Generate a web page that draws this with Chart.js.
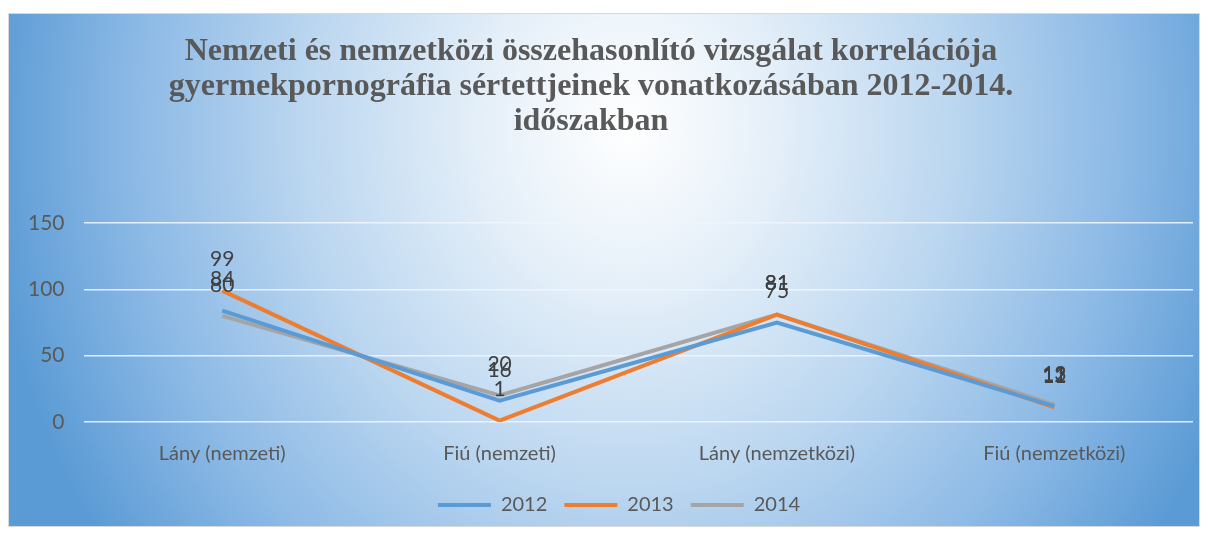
<!DOCTYPE html>
<html>
<head>
<meta charset="utf-8">
<script src="https://cdn.jsdelivr.net/npm/chart.js@4.4.1/dist/chart.umd.min.js"></script>
<style>
  html, body { margin: 0; padding: 0; background: #ffffff; }
  #box {
    position: absolute; left: 8px; top: 13px; width: 1190px; height: 512px;
    border: 1px solid #d9d9d9;
    background: radial-gradient(ellipse 54% 140% at 52% 22%, #ffffff 0%, #e6f0f9 22%, #bcd7f0 50%, #8ab8e5 78%, #5b9bd5 100%);
  }
  #wrap { position: absolute; left: 0; top: 0; width: 1190px; height: 512px; }
</style>
</head>
<body>
<div id="box"><div id="wrap"><canvas id="c"></canvas></div></div>
<script>
const categories = ["Lány (nemzeti)", "Fiú (nemzeti)", "Lány (nemzetközi)", "Fiú (nemzetközi)"];
const series2012 = [84, 16, 75, 12];
const series2013 = [99, 1, 81, 11];
const series2014 = [80, 20, 81, 13];
const seriesNames = ["2012", "2013", "2014"];
const yTicks = [0, 50, 100, 150];
const titleLines = [
  "Nemzeti és nemzetközi összehasonlító vizsgálat korrelációja",
  "gyermekpornográfia sértettjeinek vonatkozásában 2012-2014.",
  "időszakban"
];

const FONT = "Lato, 'Open Sans', sans-serif";

const titlePlugin = {
  id: 'customTitle',
  afterDraw(chart) {
    const ctx = chart.ctx;
    ctx.save();
    ctx.font = "bold 32px 'Liberation Serif', 'Times New Roman', serif";
    ctx.fillStyle = '#595959';
    ctx.textAlign = 'center';
    ctx.textBaseline = 'middle';
    titleLines.forEach((t, i) => ctx.fillText(t, 582, 38 + i * 35));
    ctx.restore();
  }
};

const labelPlugin = {
  id: 'valueLabels',
  afterDatasetsDraw(chart) {
    const ctx = chart.ctx;
    ctx.save();
    ctx.font = "21px " + FONT;
    ctx.fillStyle = '#404040';
    ctx.textAlign = 'center';
    ctx.textBaseline = 'middle';
    chart.data.datasets.forEach((ds, di) => {
      const meta = chart.getDatasetMeta(di);
      meta.data.forEach((pt, i) => {
        ctx.fillText(String(ds.data[i]), pt.x, pt.y - 31);
      });
    });
    ctx.restore();
  }
};

const legendShift = {
  id: 'legendShift',
  afterLayout(chart) {
    if (chart.legend) {
      chart.legend.left += 18;
      chart.legend.right += 18;
    }
  }
};

new Chart(document.getElementById('c'), {
  type: 'line',
  data: {
    labels: categories,
    datasets: [
      { label: seriesNames[0], data: series2012, borderColor: '#5b9bd5', backgroundColor: '#5b9bd5', borderWidth: 4, pointRadius: 0, tension: 0 },
      { label: seriesNames[1], data: series2013, borderColor: '#ed7d31', backgroundColor: '#ed7d31', borderWidth: 4, pointRadius: 0, tension: 0 },
      { label: seriesNames[2], data: series2014, borderColor: '#a5a5a5', backgroundColor: '#a5a5a5', borderWidth: 4, pointRadius: 0, tension: 0 }
    ]
  },
  options: {
    responsive: true,
    maintainAspectRatio: false,
    animation: false,
    layout: { padding: { top: 209, right: 6, left: 0, bottom: 1 } },
    scales: {
      x: {
        offset: true,
        grid: { display: false },
        border: { display: false },
        ticks: { color: '#595959', font: { family: FONT, size: 20 }, padding: 12 }
      },
      y: {
        min: 0, max: 150,
        afterBuildTicks(axis) { axis.ticks = yTicks.map(v => ({ value: v })); },
        grid: { color: 'rgba(240,245,252,0.9)', lineWidth: 1.5, drawTicks: false },
        border: { display: false },
        ticks: { color: '#595959', font: { family: FONT, size: 21 }, padding: 19 }
      }
    },
    plugins: {
      legend: {
        position: 'bottom',
        labels: {
          usePointStyle: true,
          pointStyle: 'line',
          pointStyleWidth: 53,
          color: '#595959',
          font: { family: FONT, size: 20 },
          padding: 17
        }
      },
      tooltip: { enabled: false }
    }
  },
  plugins: [titlePlugin, labelPlugin, legendShift]
});
</script>
</body>
</html>
